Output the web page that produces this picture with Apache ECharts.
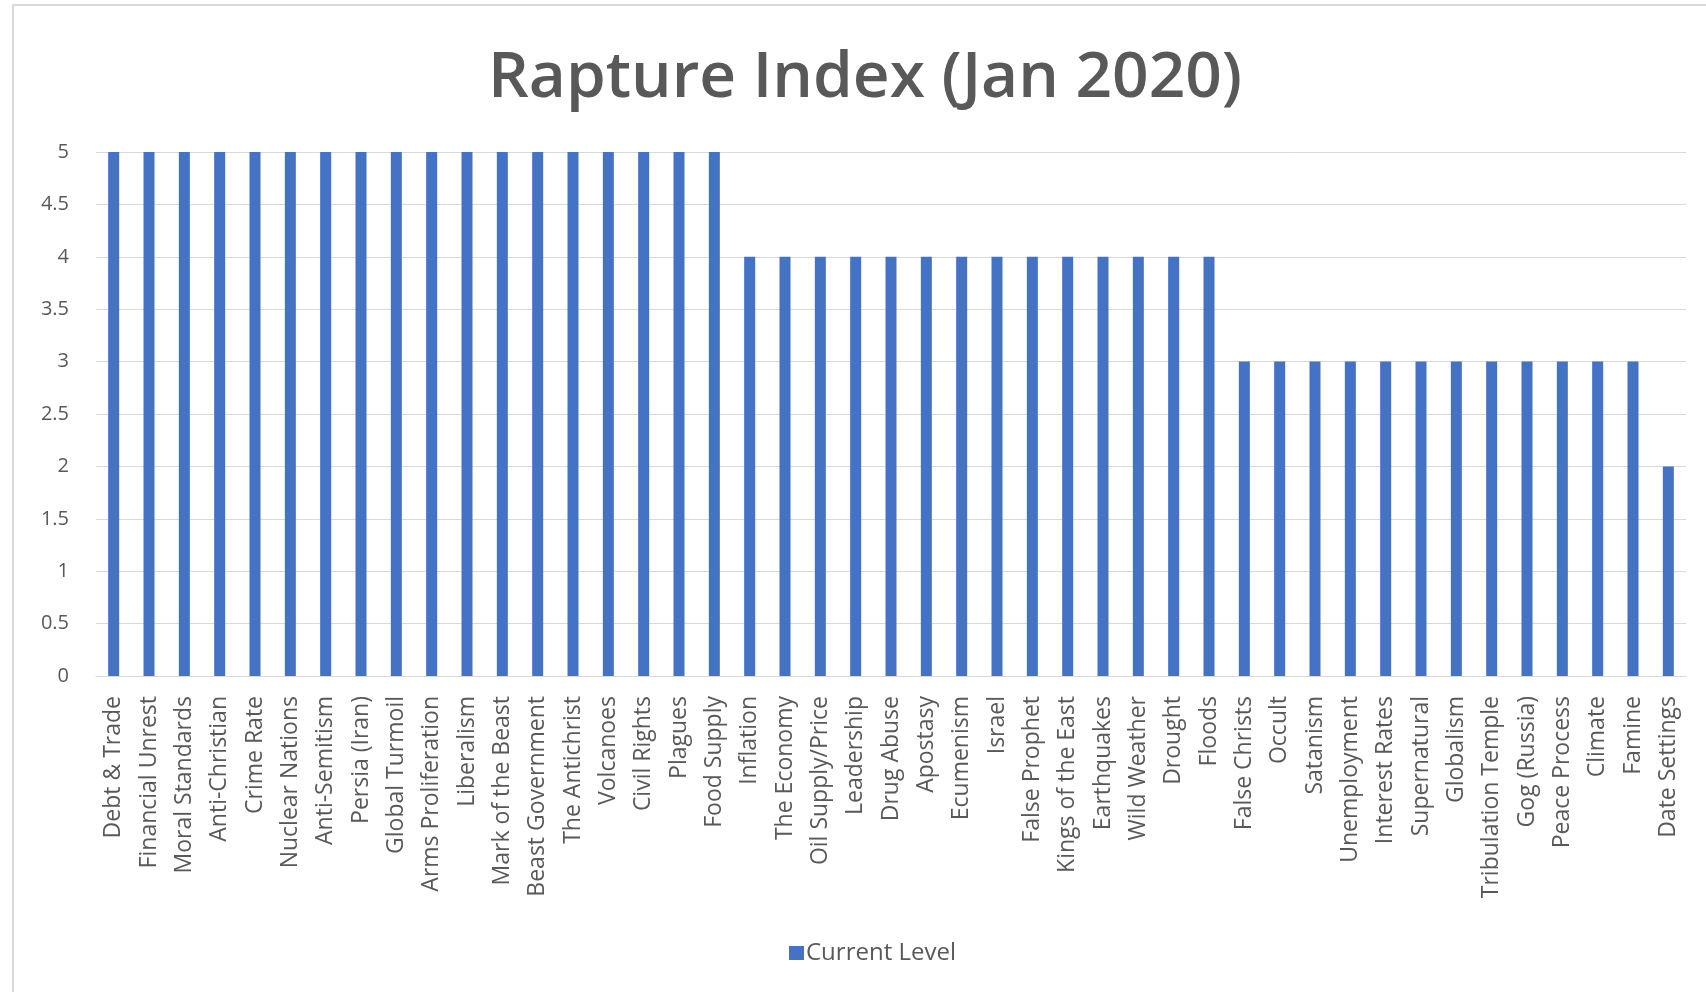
<!DOCTYPE html>
<html>
<head>
<meta charset="utf-8">
<script src="https://cdn.jsdelivr.net/npm/echarts@6/dist/echarts.min.js"></script>
<style>
html,body{margin:0;padding:0;background:#fff;}
#frame{position:absolute;left:12px;top:4px;width:1720px;height:1020px;border:2px solid #d9d9d9;box-sizing:border-box;}
#chart{position:absolute;left:0;top:0;width:1706px;height:992px;}
</style>
</head>
<body>
<div id="frame"></div>
<div id="chart"></div>
<script>
const categories = [
  "Debt & Trade","Financial Unrest","Moral Standards","Anti-Christian","Crime Rate","Nuclear Nations",
  "Anti-Semitism","Persia (Iran)","Global Turmoil","Arms Proliferation","Liberalism","Mark of the Beast",
  "Beast Government","The Antichrist","Volcanoes","Civil Rights","Plagues","Food Supply",
  "Inflation","The Economy","Oil Supply/Price","Leadership","Drug Abuse","Apostasy","Ecumenism","Israel",
  "False Prophet","Kings of the East","Earthquakes","Wild Weather","Drought","Floods",
  "False Christs","Occult","Satanism","Unemployment","Interest Rates","Supernatural","Globalism",
  "Tribulation Temple","Gog (Russia)","Peace Process","Climate","Famine","Date Settings"
];
const currentLevel = [
  5,5,5,5,5,5,5,5,5,5,5,5,5,5,5,5,5,5,
  4,4,4,4,4,4,4,4,4,4,4,4,4,4,
  3,3,3,3,3,3,3,3,3,3,3,3,
  2
];
const yTicks = [0,0.5,1,1.5,2,2.5,3,3.5,4,4.5,5];

const chart = echarts.init(document.getElementById('chart'), null, {renderer:'canvas'});
chart.setOption({
  animation:false,
  backgroundColor:'transparent',
  title:{
    text:'Rapture Index (Jan 2020)',
    left:860, top:42, textAlign:'center',
    textStyle:{fontFamily:'Open Sans', fontWeight:600, fontSize:64, color:'#595959'}
  },
  legend:{
    data:['Current Level'], left:784, top:936,
    itemWidth:15, itemHeight:14, itemGap:5,
    icon:'rect',
    textStyle:{fontFamily:'Open Sans', fontSize:24, color:'#595959', padding:[0,0,0,-3]}
  },
  grid:{left:96, right:20, top:152, bottom:316, containLabel:false},
  xAxis:{
    type:'category', data:categories,
    axisLine:{lineStyle:{color:'#d9d9d9', width:1}},
    axisTick:{show:false},
    axisLabel:{rotate:90, interval:0, margin:20, color:'#595959', fontFamily:'Open Sans', fontSize:23}
  },
  yAxis:{
    type:'value', min:yTicks[0], max:yTicks[yTicks.length-1], interval:0.5,
    axisLine:{show:false}, axisTick:{show:false},
    splitLine:{lineStyle:{color:'#d9d9d9', width:1}},
    axisLabel:{margin:27, color:'#595959', fontFamily:'Open Sans', fontSize:20}
  },
  series:[{
    name:'Current Level', type:'bar', data:currentLevel,
    barWidth:11, itemStyle:{color:'#4472C4'}
  }]
});
</script>
</body>
</html>
